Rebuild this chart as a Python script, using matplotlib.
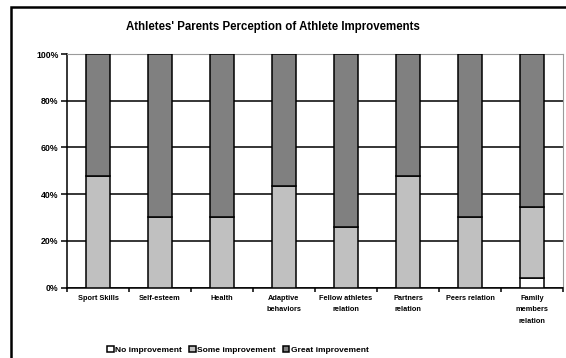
import matplotlib
matplotlib.use('Agg')
import matplotlib.pyplot as plt
from matplotlib.patches import Rectangle
from matplotlib.ticker import FixedLocator, PercentFormatter
import numpy as np

plt.rcParams['font.family'] = ['Liberation Sans', 'DejaVu Sans']

categories = ['Sport Skills', 'Self-esteem', 'Health', 'Adaptive\nbehaviors',
              'Fellow athletes\nrelation', 'Partners\nrelation', 'Peers relation',
              'Family\nmembers\nrelation']
no_improvement = [0, 0, 0, 0, 0, 0, 0, 4.3]
some_improvement = [47.8, 30.4, 30.4, 43.5, 26.1, 47.8, 30.4, 30.4]
great_improvement = [52.2, 69.6, 69.6, 56.5, 73.9, 52.2, 69.6, 65.2]
series_names = ['No improvement', 'Some improvement', 'Great improvement']
series_colors = ['#ffffff', '#c0c0c0', '#808080']

fig = plt.figure(figsize=(5.66, 3.58), dpi=100)
ax = fig.add_axes([67 / 566, 70.3 / 358, 496 / 566, 233.7 / 358])

x = np.arange(len(categories))
bottom = np.zeros(len(categories))
handles = []
for vals, name, col in zip([no_improvement, some_improvement, great_improvement],
                           series_names, series_colors):
    b = ax.bar(x, vals, width=0.4, bottom=bottom, color=col, edgecolor='black',
               linewidth=1.1, label=name, zorder=3)
    handles.append(b)
    bottom += np.array(vals)

ax.set_xlim(-0.5, len(categories) - 0.5)
ax.set_ylim(0, 100)
ax.set_yticks([0, 20, 40, 60, 80, 100])
ax.yaxis.set_major_formatter(PercentFormatter(decimals=0))
ax.yaxis.grid(True, color='black', linewidth=1.1, zorder=0)

ax.set_xticks(x)
ax.set_xticklabels(categories, fontsize=5.3, fontweight='bold', linespacing=1.95, va='top')
ax.xaxis.set_minor_locator(FixedLocator(np.arange(-0.5, len(categories), 1.0)))
ax.tick_params(axis='x', which='major', length=0, pad=5)
ax.tick_params(axis='x', which='minor', length=3, width=1.1, direction='out')
ax.tick_params(axis='y', length=4, width=1.1, direction='out', labelsize=6.3, pad=2)
for lab in ax.get_yticklabels():
    lab.set_fontweight('bold')

ax.spines['left'].set_linewidth(1.1)
ax.spines['bottom'].set_linewidth(1.1)
ax.spines['top'].set_color('#9a9a9a')
ax.spines['right'].set_color('#9a9a9a')

fig.text(273 / 566, 1 - 27 / 358, "Athletes' Parents Perception of Athlete Improvements",
         ha='center', va='center', fontsize=8.3, fontweight='bold')

fig.legend(handles=handles, labels=series_names, loc='center', ncol=3,
           bbox_to_anchor=(238 / 566, 1 - 350 / 358), frameon=False,
           prop={'size': 6, 'weight': 'bold'}, handlelength=0.8, handleheight=0.8,
           handletextpad=0.2, columnspacing=0.8, borderpad=0)

# chart area border
fig.patches.append(Rectangle((11 / 566, -0.05), 1.0, 1 - 7 / 358 + 0.05,
                             transform=fig.transFigure, fill=False,
                             edgecolor='black', linewidth=1.8))

fig.savefig('out.png', dpi=100)
